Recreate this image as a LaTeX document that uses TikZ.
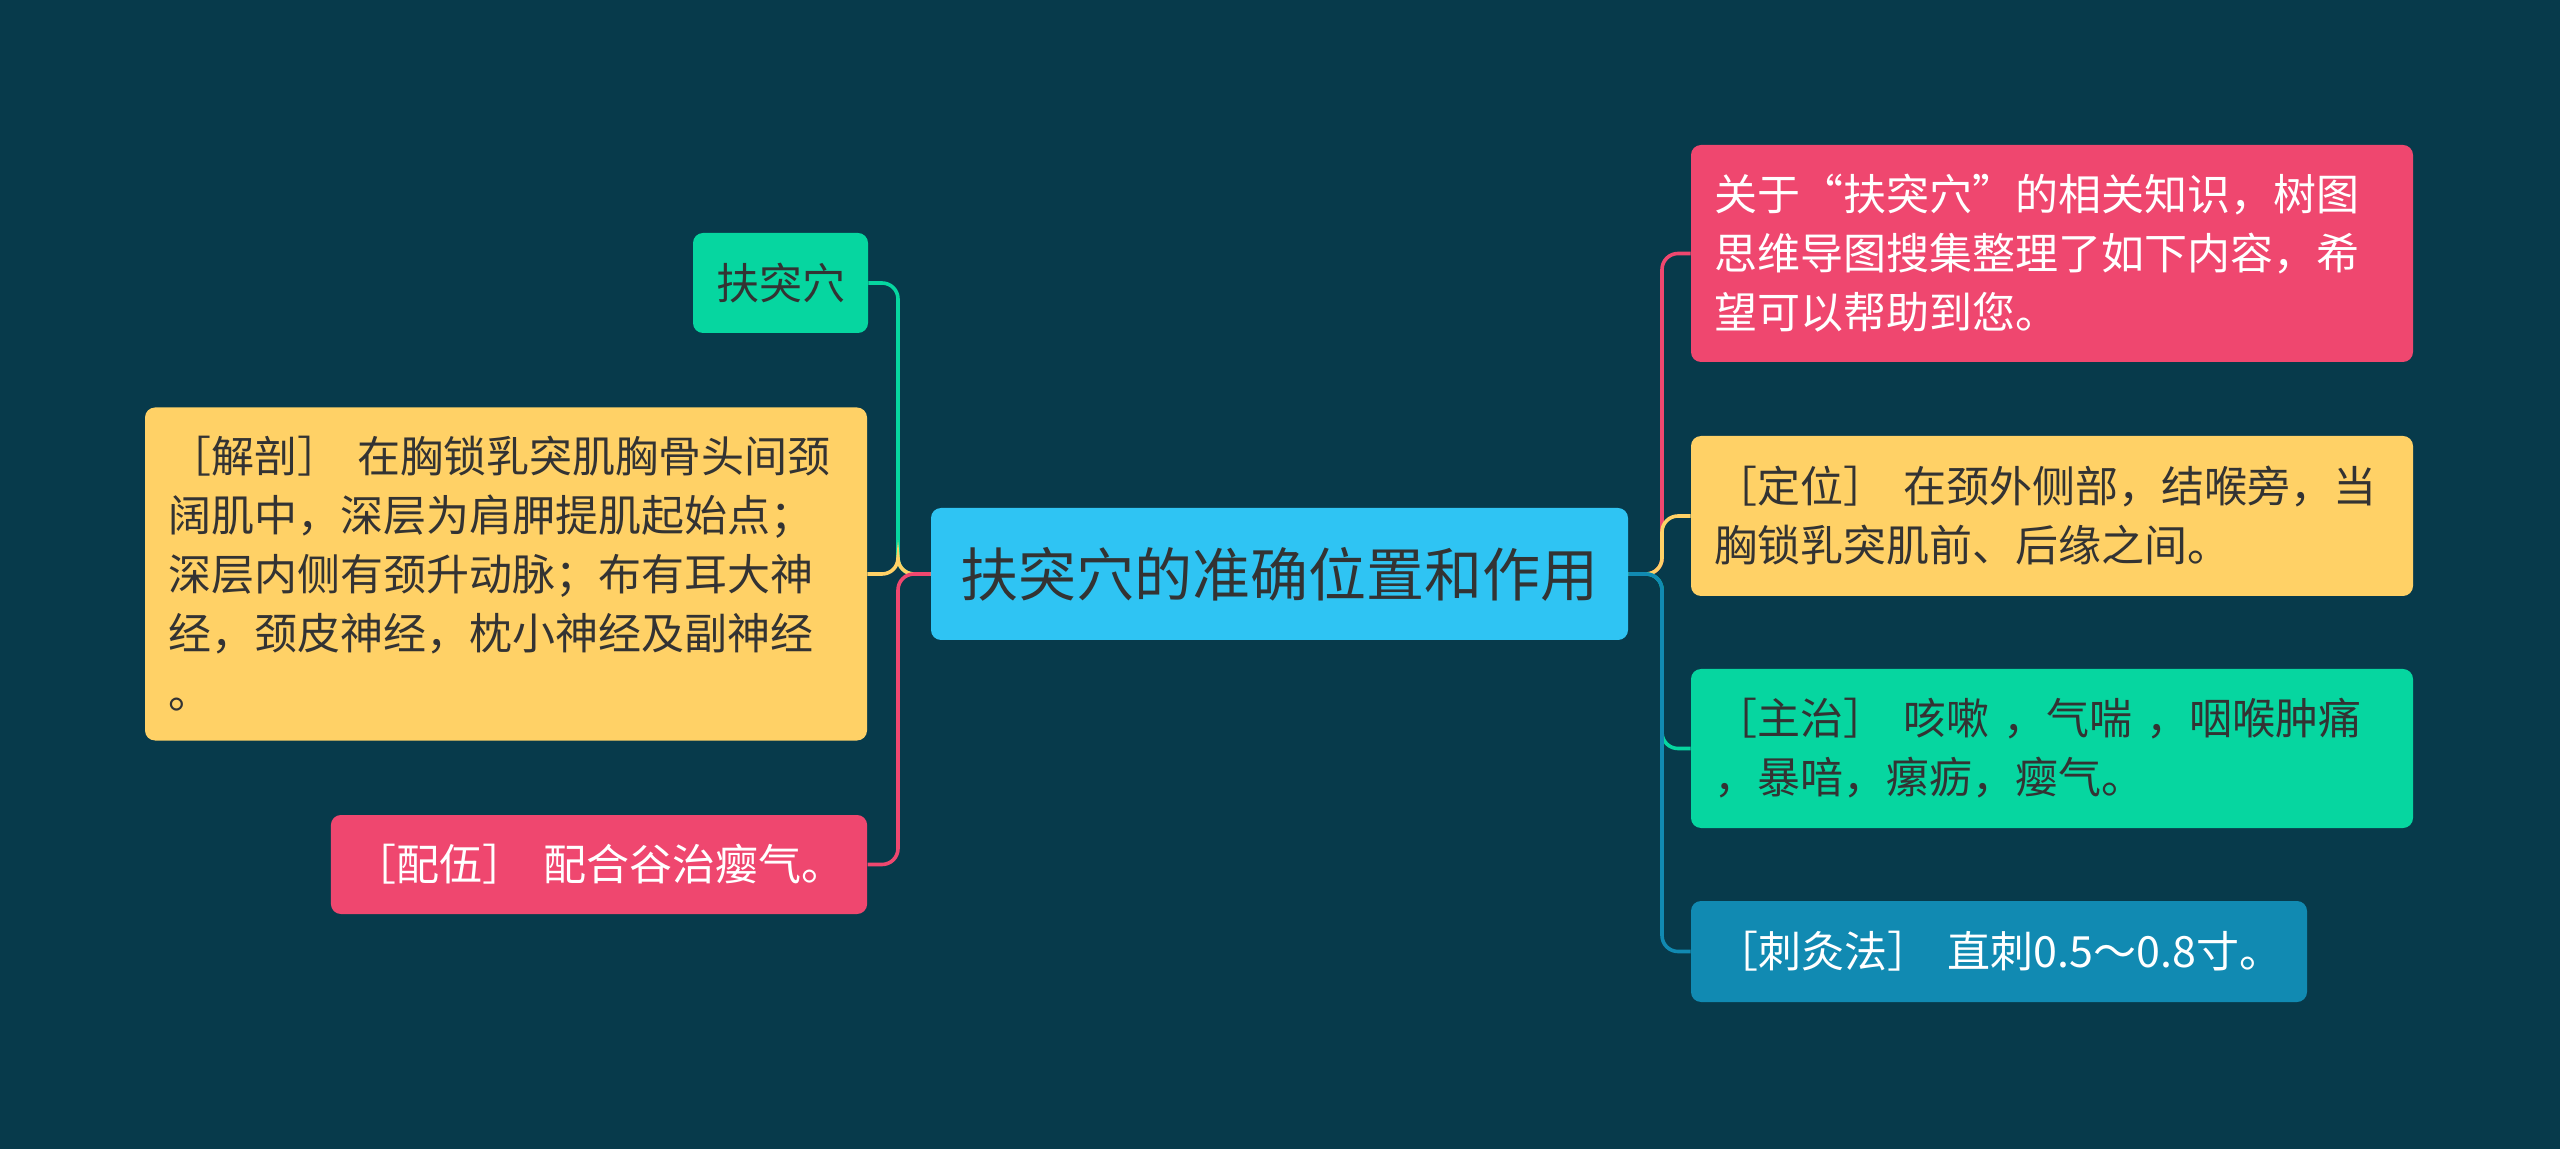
\documentclass[tikz,border=0pt]{standalone}
\usepackage{fontspec}
\setmainfont{Noto Sans CJK SC}
\definecolor{bg}{HTML}{073A4B}
\definecolor{cpink}{HTML}{EF476F}
\definecolor{cyel}{HTML}{FFD166}
\definecolor{cgreen}{HTML}{06D6A0}
\definecolor{cblue}{HTML}{118AB2}
\definecolor{ccen}{HTML}{2FC4F3}
\definecolor{ctext}{HTML}{333333}
\begin{document}
\begin{tikzpicture}[x=0.5pt,y=-0.5pt,
  box/.style={rounded corners=5pt, inner ysep=0pt, inner xsep=11.5pt,
    font=\fontsize{21.5pt}{29.5pt}\selectfont},
  multi/.style={box, text width=#1, align=left},
  single/.style={box, align=center},
  dark/.style={text=ctext},
  light/.style={text=white},
  conn/.style={line width=1.8pt, rounded corners=8pt}]
\useasboundingbox (0,0) rectangle (2560,1149);
\fill[bg] (0,0) rectangle (2560,1149);

% centre
\node[single, dark, fill=ccen, minimum width=348.5pt, minimum height=66pt,
  font=\fontsize{29pt}{34pt}\selectfont] (c) at (1279.5,574) {扶突穴的准确位置和作用};

% left side
\node[single, dark, fill=cgreen, minimum width=86.5pt, minimum height=50pt] (l1) at (780.5,283) {扶突穴};
\node[multi=338pt, dark, fill=cyel, minimum height=166.5pt] (l2) at (506,574)
  {［解剖］\hspace{0.4em}在胸锁乳突肌胸骨头间颈\\阔肌中，深层为肩胛提肌起始点；\\深层内侧有颈升动脉；布有耳大神\\经，颈皮神经，枕小神经及副神经\\。};
\node[single, light, fill=cpink, minimum width=268pt, minimum height=49.5pt] (l3) at (599,864.5)
  {［配伍］\hspace{0.4em}配合谷治瘿气。};

% right side
\node[multi=338pt, light, fill=cpink, minimum height=108.5pt] (r1) at (2052,253.5)
  {关于“扶突穴”的相关知识，树图\\思维导图搜集整理了如下内容，希\\望可以帮助到您。};
\node[multi=338pt, dark, fill=cyel, minimum height=80pt] (r2) at (2052,516)
  {［定位］\hspace{0.4em}在颈外侧部，结喉旁，当\\胸锁乳突肌前、后缘之间。};
\node[multi=338pt, dark, fill=cgreen, minimum height=79.5pt] (r3) at (2052,748.5)
  {［主治］\hspace{0.4em}咳嗽 ，气喘 ，咽喉肿痛\\，暴喑，瘰疬，瘿气。};
\node[single, light, fill=cblue, minimum width=308pt, minimum height=50.5pt] (r4) at (1999,951.5)
  {［刺灸法］\hspace{0.4em}直刺0.5～0.8寸。};

\coordinate (lt) at (898,574);
\coordinate (rt) at (1662,574);

\draw[conn, cgreen] (c.west) -- (lt) |- (l1.east);
\draw[conn, cyel] (c.west) -- (lt) |- (l2.east);
\draw[conn, cpink] (c.west) -- (lt) |- (l3.east);

\draw[conn, cpink] (c.east) -- (rt) |- (r1.west);
\draw[conn, cyel] (c.east) -- (rt) |- (r2.west);
\draw[conn, cgreen] (c.east) -- (rt) |- (r3.west);
\draw[conn, cblue] (c.east) -- (rt) |- (r4.west);
\end{tikzpicture}
\end{document}
